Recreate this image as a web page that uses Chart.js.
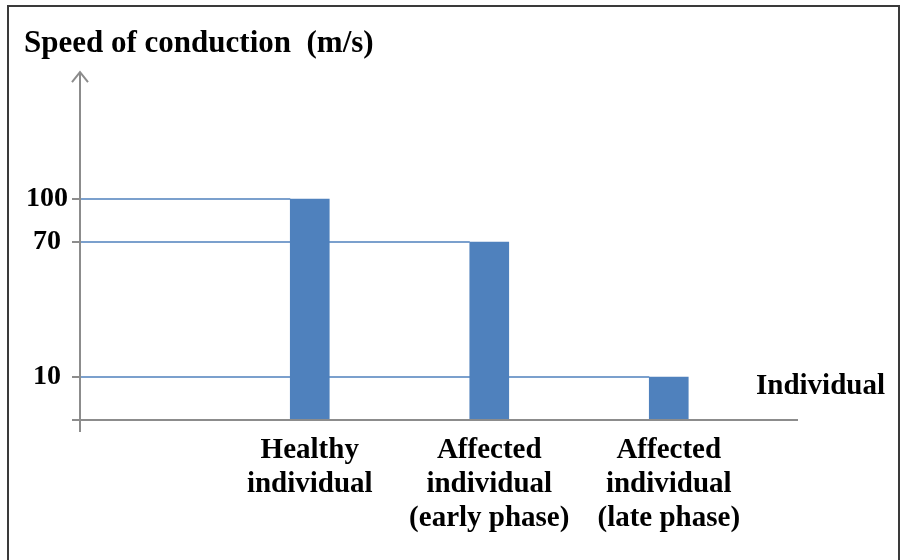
<!DOCTYPE html>
<html>
<head>
<meta charset="utf-8">
<title>Speed of conduction</title>
<script src="https://cdn.jsdelivr.net/npm/chart.js@4.4.1/dist/chart.umd.min.js"></script>
<style>
  html, body { margin: 0; padding: 0; background: #fff; overflow: hidden; }
  #wrap { position: relative; width: 900px; height: 560px; }
  #frame { position: absolute; left: 7px; top: 5px; width: 889px; height: 600px; border: 2px solid #3a3a3a; pointer-events: none; }
</style>
</head>
<body>
<div id="wrap">
  <canvas id="chart"></canvas>
  <div id="frame"></div>
</div>
<script>
// values
const categories = [
  ['Healthy', 'individual'],
  ['Affected', 'individual', '(early phase)'],
  ['Affected', 'individual', '(late phase)']
];
const speeds = [100, 70, 10];
const yTickValues = [0, 10, 70, 100];
const yTitle = 'Speed of conduction  (m/s)';
const xTitle = 'Individual';

const FONT = '"Liberation Serif", "Times New Roman", serif';
const BLUE = '#4F81BD';
const AXIS = '#8c8c8c';

// the y axis in the original is not to scale, so map values piecewise
const yBreaks = [0, 10, 70, 100, 160];
const yBreakPos = [0, 0.1236, 0.5115, 0.635, 1];

class SchematicScale extends Chart.LinearScale {
  getPixelForValue(value) {
    let t = value <= yBreaks[0] ? 0 : 1;
    for (let i = 0; i < yBreaks.length - 1; i++) {
      if (value >= yBreaks[i] && value <= yBreaks[i + 1]) {
        t = yBreakPos[i] + (value - yBreaks[i]) / (yBreaks[i + 1] - yBreaks[i]) * (yBreakPos[i + 1] - yBreakPos[i]);
        break;
      }
    }
    return this.bottom - t * (this.bottom - this.top);
  }
  getValueForPixel(pixel) {
    const t = (this.bottom - pixel) / (this.bottom - this.top);
    for (let i = 0; i < yBreakPos.length - 1; i++) {
      if (t >= yBreakPos[i] && t <= yBreakPos[i + 1]) {
        return yBreaks[i] + (t - yBreakPos[i]) / (yBreakPos[i + 1] - yBreakPos[i]) * (yBreaks[i + 1] - yBreaks[i]);
      }
    }
    return t < 0 ? yBreaks[0] : yBreaks[yBreaks.length - 1];
  }
}
SchematicScale.id = 'schematic';
SchematicScale.defaults = Chart.LinearScale.defaults;
Chart.register(SchematicScale);

// level lines, axes with arrow, x axis caption
const axesPlugin = {
  id: 'schematicAxes',
  beforeDatasetsDraw(chart) {
    const { ctx, chartArea: a, scales: { y } } = chart;
    const bars = chart.getDatasetMeta(0).data;
    ctx.save();
    ctx.strokeStyle = BLUE;
    ctx.lineWidth = 1.5;
    bars.forEach((bar, i) => {
      const py = Math.round(y.getPixelForValue(speeds[i]));
      ctx.beginPath();
      ctx.moveTo(a.left, py);
      ctx.lineTo(bar.x - bar.width / 2, py);
      ctx.stroke();
    });
    ctx.restore();
  },
  afterDatasetsDraw(chart) {
    const { ctx, chartArea: a } = chart;
    ctx.save();
    ctx.strokeStyle = AXIS;
    ctx.lineWidth = 2;
    // x axis
    ctx.beginPath();
    ctx.moveTo(a.left - 8, a.bottom);
    ctx.lineTo(a.right, a.bottom);
    ctx.stroke();
    // y axis, running a little below the x axis
    ctx.beginPath();
    ctx.moveTo(a.left, a.bottom + 12);
    ctx.lineTo(a.left, a.top);
    ctx.stroke();
    // arrow head
    ctx.beginPath();
    ctx.moveTo(a.left - 8, a.top + 10);
    ctx.lineTo(a.left, a.top);
    ctx.lineTo(a.left + 8, a.top + 10);
    ctx.stroke();
    // x axis caption
    ctx.fillStyle = '#000';
    ctx.font = 'bold 29px ' + FONT;
    ctx.textAlign = 'left';
    ctx.textBaseline = 'alphabetic';
    ctx.fillText(xTitle, a.right - 42, a.bottom - 26);
    ctx.restore();
  }
};

const chart = new Chart(document.getElementById('chart'), {
  type: 'bar',
  data: {
    datasets: [{
      data: speeds.map((v, i) => ({ x: i, y: v })),
      backgroundColor: BLUE,
      borderWidth: 0,
      barThickness: 39
    }]
  },
  options: {
    responsive: true,
    maintainAspectRatio: false,
    animation: false,
    layout: { padding: { left: 24, right: 102, top: 0, bottom: 0 } },
    plugins: {
      legend: { display: false },
      tooltip: { enabled: false },
      title: {
        display: true,
        text: yTitle,
        align: 'start',
        color: '#000',
        font: { family: FONT, size: 31, weight: 'bold' },
        padding: { top: 25, bottom: 10 }
      }
    },
    scales: {
      x: {
        type: 'linear',
        offset: false,
        min: -1.28,
        max: 2.72,
        afterBuildTicks: s => { s.ticks = categories.map((c, i) => ({ value: i })); },
        afterFit: s => { s.height = 140; },
        border: { display: false },
        grid: { display: false, drawTicks: false, offset: false },
        ticks: {
          autoSkip: false,
          maxRotation: 0,
          padding: 14,
          color: '#000',
          font: { family: FONT, size: 29, weight: 'bold', lineHeight: 1.17 },
          callback: v => categories[v]
        }
      },
      y: {
        type: 'schematic',
        min: 0,
        max: 160,
        afterBuildTicks: s => { s.ticks = yTickValues.map(v => ({ value: v })); },
        afterFit: s => { s.width = 56; },
        border: { display: false },
        grid: { drawOnChartArea: false, drawTicks: true, tickLength: 8, color: AXIS, lineWidth: 2 },
        ticks: {
          crossAlign: 'center',
          padding: 4,
          color: '#000',
          font: { family: FONT, size: 28, weight: 'bold' },
          callback: v => (v === 0 ? '' : String(v))
        }
      }
    }
  },
  plugins: [axesPlugin]
});
</script>
</body>
</html>
